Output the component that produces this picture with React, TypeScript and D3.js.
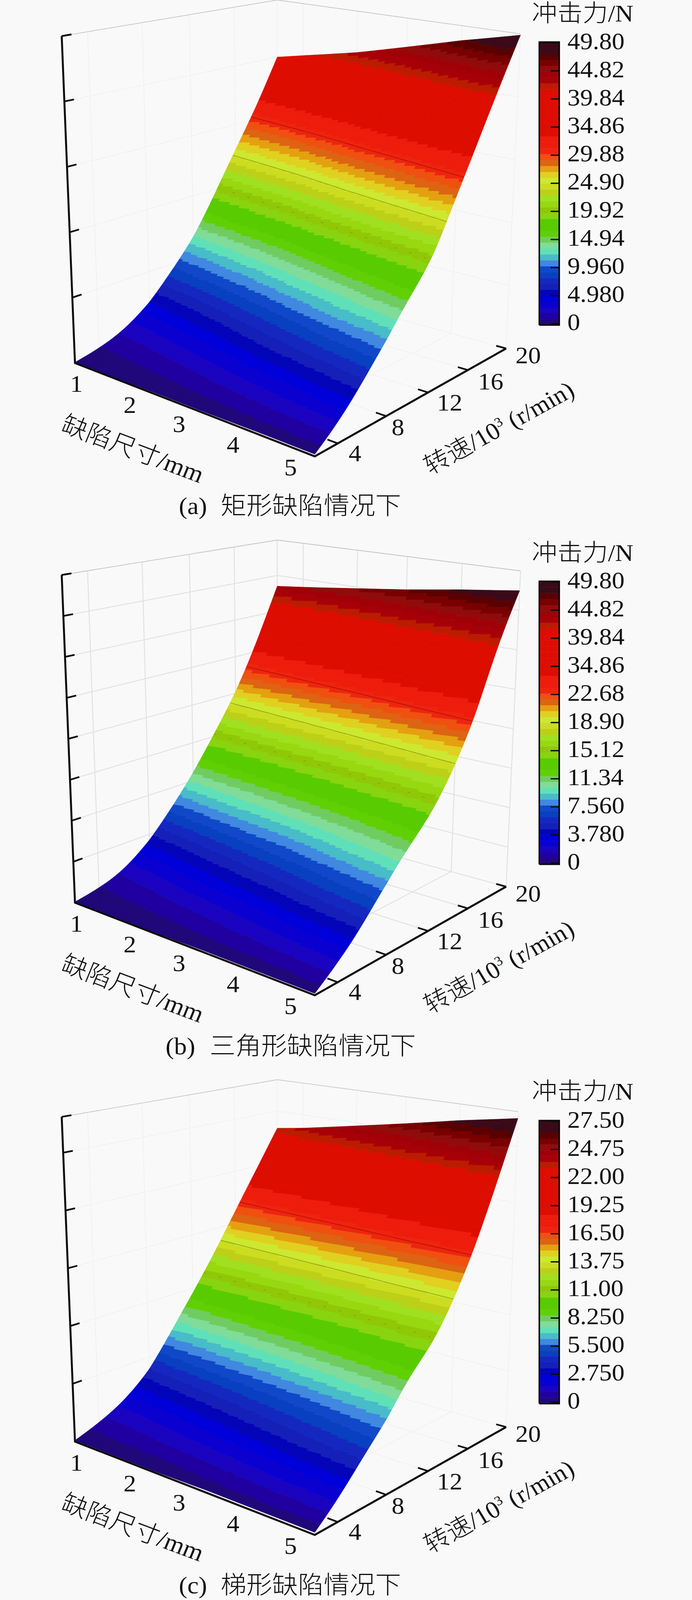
import React from 'react';
import * as d3 from 'd3';

const FONT = '"Liberation Serif", "Noto Sans CJK SC", serif';

// ---- axes data
const speedGrid = [2, 4, 6, 8, 10, 12, 14, 16, 18, 20];
const sizeGrid = [0.5, 1, 2, 3, 4, 5];
const speedTicks = [4, 8, 12, 16, 20];
const sizeTicks = [1, 2, 3, 4, 5];

// ---- force surfaces, N: one row per defect size, one value per speed in speedGrid
const forceA = [
  [0.1, 0.8, 2.2, 5, 8.8, 13, 19, 25.8, 32, 40],
  [0.1, 1.0, 2.6, 5.6, 9.4, 13.8, 19.8, 26.6, 33, 41],
  [0.2, 1.4, 3.6, 7, 10.9, 15.4, 21.6, 28.4, 35.2, 43],
  [0.2, 1.9, 4.7, 8.6, 12.6, 17.2, 23.6, 30.6, 37.6, 45.2],
  [0.3, 2.4, 5.8, 10.2, 14.4, 18.8, 25.4, 32.6, 40, 47.6],
  [0.3, 2.9, 6.9, 11.6, 16, 20, 27.2, 34.7, 42.2, 49.8],
];
const forceB = [
  [0.1, 0.6, 1.7, 4.2, 7.3, 11, 15.3, 20, 26, 33.5],
  [0.1, 0.8, 2.0, 4.6, 7.8, 11.4, 15.6, 20.4, 26.6, 33.9],
  [0.1, 1.1, 2.8, 5.6, 8.7, 12.1, 16.3, 21.2, 27.7, 34.8],
  [0.2, 1.4, 3.4, 6.4, 9.5, 12.7, 16.9, 21.9, 28.8, 35.6],
  [0.2, 1.8, 4.2, 7.6, 10.5, 13.5, 17.5, 22.8, 30.2, 36.6],
  [0.2, 2.2, 5, 8.7, 11.5, 14.2, 18.1, 23.6, 31.4, 37.5],
];
const forceC = [
  [0.1, 0.8, 1.9, 3.8, 6.6, 9.6, 12.6, 16.2, 19.6, 23.3],
  [0.1, 0.9, 2.1, 4.1, 6.8, 9.7, 12.7, 16.3, 19.9, 23.7],
  [0.1, 1.1, 2.6, 4.6, 7.4, 9.9, 12.9, 16.6, 20.4, 24.7],
  [0.2, 1.3, 3.1, 5.1, 7.9, 10.1, 13.1, 16.8, 21, 25.6],
  [0.2, 1.6, 3.6, 5.7, 8.4, 10.4, 13.3, 17.1, 21.6, 26.6],
  [0.2, 1.8, 4.1, 6.3, 8.9, 10.6, 13.4, 17.3, 22.1, 27.5],
];

// ---- legends
const legendA = ['0', '4.980', '9.960', '14.94', '19.92', '24.90', '29.88', '34.86', '39.84', '44.82', '49.80'];
const legendB = ['0', '3.780', '7.560', '11.34', '15.12', '18.90', '22.68', '34.86', '39.84', '44.82', '49.80'];
const legendC = ['0', '2.750', '5.500', '8.250', '11.00', '13.75', '16.50', '19.25', '22.00', '24.75', '27.50'];
const zTicksA = [0, 10, 20, 30, 40, 50];
const zTicksB = [0, 5, 10, 15, 20, 25, 30, 35, 40];
const zTicksC = [0, 5, 10, 15, 20, 25];

// colour levels, lowest force first
const levelColors = [
  '#20087a', '#2000a0', '#1a04c0', '#0a00d0', '#0000d8', '#0404b8', '#1420b8', '#1428c0',
  '#0840c0', '#1048c8', '#4088e0', '#48bcc8', '#60e0b8', '#80dc98', '#70cc60', '#60d004',
  '#58cc00', '#58cc00', '#88d410', '#90c808', '#98d810', '#a0e020', '#bcd018', '#ccdc20',
  '#cce830', '#e0d020', '#e4a010', '#dc6412', '#f05010', '#ee2410', '#ee1c0c', '#ee1c0c',
  '#dd0d00', '#dd0d00', '#dd0d00', '#dd0d00', '#dd0d00', '#dd0d00', '#dd0d00', '#dd0d00',
  '#bb1c00', '#a80008', '#a00008', '#900c0c', '#780000', '#5a0000', '#3a0a18', '#3a0a18',
];

// ---- layout
type Pt = [number, number];
const layouts = [
  {
    A: [192, 976], A1: [158, 97], B: [806, 1227], B1: [812, 276], C: [1296, 937], C1: [1333, 91], D: [710, 767], D1: [710, 0],
    barTop: 113, titleY: 58, captionY: 1382, capX: 458, capCjkX: 565,
  },
  {
    A: [192, 2427], A1: [158, 1546], B: [806, 2676], B1: [812, 1721], C: [1296, 2384], C1: [1333, 1535], D: [710, 2215], D1: [710, 1452],
    barTop: 1563, titleY: 1508, captionY: 2835, capX: 424, capCjkX: 537,
  },
  {
    A: [192, 3876], A1: [158, 3003], B: [806, 4127], B1: [812, 3171], C: [1296, 3837], C1: [1327, 2989], D: [710, 3666], D1: [710, 2903],
    barTop: 3013, titleY: 2957, captionY: 4284, capX: 458, capCjkX: 565,
  },
] as Record<string, any>[];

const panels = [
  { force: forceA, legend: legendA, zTicks: zTicksA, zMax: 50, colorMax: 49.8, letter: '(a)', caption: '矩形缺陷情况下', gridColor: '#f1f1f1', gridWidth: 2 },
  { force: forceB, legend: legendB, zTicks: zTicksB, zMax: 40, colorMax: 37.8, letter: '(b)', caption: '三角形缺陷情况下', gridColor: '#e2e2e2', gridWidth: 2.5 },
  { force: forceC, legend: legendC, zTicks: zTicksC, zMax: 28.1, colorMax: 27.5, letter: '(c)', caption: '梯形缺陷情况下', gridColor: '#f1f1f1', gridWidth: 2 },
];

const xPos = d3.scaleLinear().domain(sizeGrid).range([0, 0.107, 0.33, 0.535, 0.76, 1]);
const sPos = d3.scaleLinear().domain([2, 4, 8, 12, 16, 20]).range([0, 0.12, 0.373, 0.592, 0.8, 1]);
const sLabelDx = [28, 14, 23, 26, 24];
const sLabelDy = [48, 51, 49, 52, 40];
const line = d3.line();

function Panel({ index }: { index: number }) {
  const L = layouts[index];
  const P = panels[index];
  const zPos = d3.scaleLinear().domain([0, P.zMax]).range([0, 1]);
  const lerp = (a: Pt, b: Pt, t: number): Pt => [a[0] + (b[0] - a[0]) * t, a[1] + (b[1] - a[1]) * t];
  const project = (x: number, s: number, z: number): Pt => {
    const ux = xPos(x), us = sPos(s), w = zPos(z);
    const bottom = lerp(lerp(L.A, L.B, ux), lerp(L.D, L.C, ux), us);
    const top = lerp(lerp(L.A1, L.B1, ux), lerp(L.D1, L.C1, ux), us);
    return lerp(bottom, top, w);
  };
  const speedUnit = d3.scaleLinear().domain([2, 20]).range([0, 1]);
  const rows = P.force.map((r: number[]) => {
    const smooth = d3.interpolateBasis(r);
    return (s: number) => smooth(speedUnit(s));
  });
  const force = (x: number, s: number) => {
    let i = d3.bisectRight(sizeGrid, x) - 1;
    i = Math.max(0, Math.min(sizeGrid.length - 2, i));
    const t = (x - sizeGrid[i]) / (sizeGrid[i + 1] - sizeGrid[i]);
    return rows[i](s) * (1 - t) + rows[i + 1](s) * t;
  };
  const level = d3.scaleQuantize<number>().domain([0, P.colorMax]).range(d3.range(levelColors.length));

  // surface cells grouped per colour level
  const nS = 170, nX = 64;
  const sVals = d3.range(nS + 1).map(i => sPos.invert(i / nS));
  const xVals = d3.range(nX + 1).map(i => xPos.invert(i / nX));
  const cells: string[][] = levelColors.map(() => []);
  for (let i = 0; i < nX; i++) {
    for (let j = 0; j < nS; j++) {
      const [x0, x1, s0, s1] = [xVals[i], xVals[i + 1], sVals[j], sVals[j + 1]];
      const poly: Pt[] = [
        project(x0, s0, force(x0, s0)), project(x1, s0, force(x1, s0)),
        project(x1, s1, force(x1, s1)), project(x0, s1, force(x0, s1)),
      ];
      const lv = level(force((x0 + x1) / 2, (s0 + s1) / 2));
      cells[lv].push(line(poly) + 'Z');
    }
  }

  // contour traces on the surface
  const contour = (frac: number) => {
    const target = frac * P.colorMax;
    const pts: Pt[] = [];
    for (const x of d3.range(0.5, 5.001, 0.25)) {
      const s = d3.range(2, 20, 0.02).find(v => force(x, v) >= target);
      if (s !== undefined) pts.push(project(x, s, target));
    }
    return line(pts) as string;
  };

  const x0 = sizeGrid[0], x1 = 5, s0 = 2, s1 = 20, zTop = P.zMax;
  const gridD: string[] = [];
  // back walls, floor
  speedTicks.forEach(s => {
    gridD.push(line([project(x0, s, 0), project(x0, s, zTop)])!);
    gridD.push(line([project(x0, s, 0), project(x1, s, 0)])!);
  });
  sizeTicks.forEach(x => {
    gridD.push(line([project(x, s1, 0), project(x, s1, zTop)])!);
    gridD.push(line([project(x, s0, 0), project(x, s1, 0)])!);
  });
  P.zTicks.forEach(z => {
    gridD.push(line([project(x0, s0, z), project(x0, s1, z), project(x1, s1, z)])!);
  });

  // legend
  const bar = { x: 1381, w: 51, h: 761 };
  const legendY = d3.scalePoint<number>().domain(d3.range(P.legend.length)).range([L.barTop + 757.6, L.barTop + 2]);
  const bandY = d3.scaleBand<number>().domain(d3.range(levelColors.length)).range([L.barTop + bar.h, L.barTop]);

  return (
    <g fontFamily={FONT} fill="#111">
      <path d={gridD.join('')} fill="none" stroke={P.gridColor} strokeWidth={P.gridWidth} />
      <path d={line([project(x0, s0, zTop), project(x0, s1, zTop), project(x1, s1, zTop)])!} fill="none" stroke="#c9c9c9" strokeWidth={2} />

      {/* axes */}
      <path d={line([project(x0, s0, zTop), project(x0, s0, 0), project(x1, s0, 0), project(x1, s1, 0)])!} fill="none" stroke="#0c0c0c" strokeWidth={5} />
      {P.zTicks.filter(z => z > 0).map(z => (
        <path key={z} d={line([project(x0, s0, z), project(x0, 2.75, z)])!} stroke="#0c0c0c" strokeWidth={4.5} />
      ))}
      <path d={line([project(x0, s0, zTop), project(x0, 2.75, zTop)])!} stroke="#0c0c0c" strokeWidth={4.5} />

      {/* surface */}
      {cells.map((c, i) => c.length ? (
        <path key={i} d={c.join('')} fill={levelColors[i]} stroke={levelColors[i]} strokeWidth={0.8} />
      ) : null)}
      <path d={contour(0.615)} fill="none" stroke="#a81400" strokeWidth={2} opacity={0.85} />
      <path d={contour(0.5)} fill="none" stroke="#8d9c10" strokeWidth={2} opacity={0.85} />
      <path d={contour(0.405)} fill="none" stroke="#62a800" strokeWidth={2} strokeDasharray="6 34" opacity={0.8} />
      <path d={line([project(x0, s0, 0), project(x1, s0, 0), project(x1, s1, 0)])!} fill="none" stroke="#0c0c0c" strokeWidth={5} />
      {speedTicks.map(s => (
        <path key={s} d={line([project(x1, s, 0), project(4.82, s, 0)])!} stroke="#0c0c0c" strokeWidth={4.5} />
      ))}

      {/* tick labels */}
      {sizeTicks.map(x => {
        const p = project(x, s0, 0);
        return <text key={x} x={p[0] - 62} y={p[1] + 29 + 22} fontSize={65} textAnchor="middle">{x}</text>;
      })}
      {speedTicks.map((s, i) => {
        const p = project(x1, s, 0);
        return <text key={s} x={p[0] + sLabelDx[i]} y={p[1] + sLabelDy[i]} fontSize={65}>{s}</text>;
      })}
      <text transform={`translate(${L.A[0] - 39},${L.A[1] + 182}) rotate(21.5)`} fontSize={66} fontWeight={300}>缺陷尺寸/mm</text>
      <text transform={`translate(${L.B[0] + 296},${L.B[1] + 50}) rotate(-30)`} fontSize={65} fontWeight={300}>
        转速/10<tspan fontSize={36} dy={-24}>3</tspan><tspan dy={24}> (r/min)</tspan>
      </text>

      {/* colour bar */}
      {levelColors.map((c, i) => (
        <rect key={i} x={bar.x} y={bandY(i)!} width={bar.w} height={bandY.bandwidth() + 0.5} fill={c} />
      ))}
      <path d={`M${bar.x},${L.barTop + bar.h}V${L.barTop}H${bar.x + bar.w}V${L.barTop + bar.h}H${bar.x}`} fill="none" stroke="#0a0a0a" strokeWidth={4} />
      {P.legend.map((t, i) => (
        <g key={t}>
          <path d={`M${bar.x + bar.w - 22},${legendY(i)}H${bar.x + bar.w}`} stroke="#0a0a0a" strokeWidth={3.5} />
          <text x={1453} y={legendY(i)! + 17} fontSize={65}>{t}</text>
        </g>
      ))}
      <text x={1362} y={L.titleY} fontSize={65} fontWeight={300}>冲击力/N</text>

      {/* caption */}
      <text x={L.capX} y={L.captionY} fontSize={65}>{P.letter}</text>
      <text x={L.capCjkX} y={L.captionY} fontSize={66} fontWeight={300}>{P.caption}</text>
    </g>
  );
}

export default function App() {
  return (
    <>
      <style>{'html,body{margin:0;padding:0;background:#f9f9f9;overflow:hidden}'}</style>
      <svg viewBox="0 0 1772 4302" preserveAspectRatio="none" style={{ display: 'block', width: '100vw', height: '100vh', background: '#f9f9f9' }}>
        {panels.map((_, i) => <Panel key={i} index={i} />)}
      </svg>
    </>
  );
}
